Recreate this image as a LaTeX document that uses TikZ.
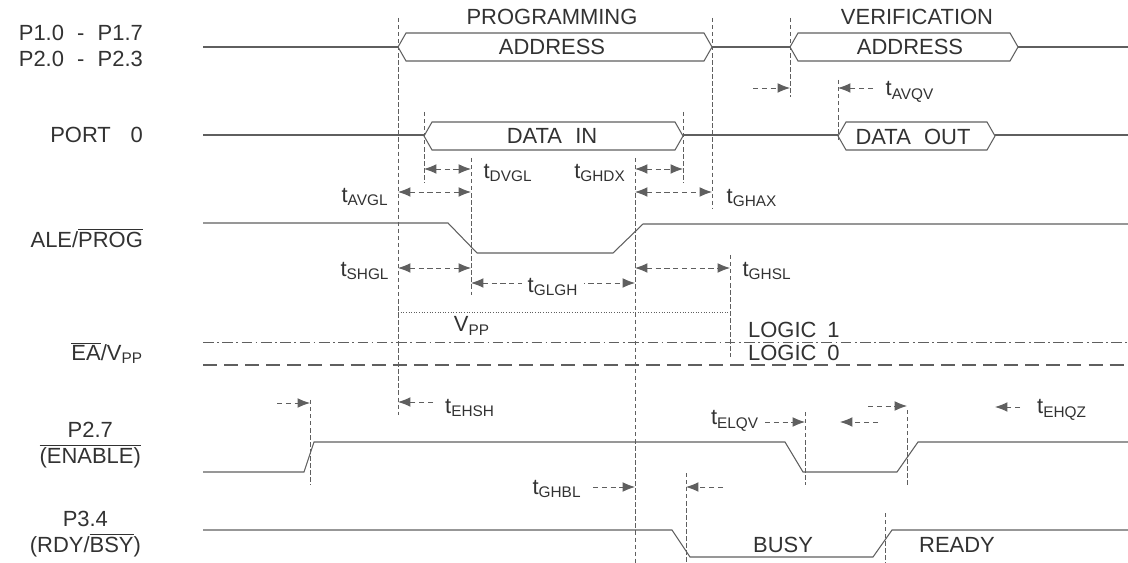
\documentclass[tikz,border=0pt]{standalone}
\usepackage{fontspec}
\setmainfont{Liberation Sans}
\usetikzlibrary{arrows.meta}
\definecolor{inkgray}{RGB}{50,50,50}
\definecolor{linegray}{RGB}{95,95,95}
\newcommand{\tsub}[1]{t\textsubscript{#1}}
\newcommand{\ovl}[1]{$\overline{\mbox{#1}}$}
% bus: x-left, x-right, y-centre, half height
\newcommand{\busshape}[4]{\draw[sig] (#1,#3) -- (#1+8,#3-#4) -- (#2-8,#3-#4) -- (#2,#3) -- (#2-8,#3+#4) -- (#1+8,#3+#4) -- cycle;}
\tikzset{
  sig/.style={linegray, line width=0.6pt},
  guide/.style={linegray, line width=0.45pt, dash pattern=on 2.5pt off 1.5pt},
  dim/.style={linegray, line width=0.5pt, dash pattern=on 3pt off 2pt, {Latex[length=7pt,width=5.5pt]}-{Latex[length=7pt,width=5.5pt]}},
  onedim/.style={linegray, line width=0.5pt, dash pattern=on 3pt off 2pt, -{Latex[length=7pt,width=5.5pt]}},
  lbl/.style={text=inkgray, font=\fontsize{12.5}{15}\selectfont, inner sep=1pt}
}
\begin{document}
\begin{tikzpicture}[x=0.02cm, y=-0.02cm]
        \useasboundingbox (0,0) rectangle (1128,563);
        % signal names
        \node[lbl, anchor=east, align=right] (nport1) at (145,46) {P1.0\hspace{0.6em}-\hspace{0.6em}P1.7\\P2.0\hspace{0.6em}-\hspace{0.6em}P2.3};
        \node[lbl, anchor=east] (nport0) at (145,135) {PORT\hspace{0.9em}0};
        \node[lbl, anchor=east] (nale) at (145,238) {ALE/\ovl{PROG}};
        \node[lbl, anchor=east] (nea) at (145,353) {\ovl{EA}/V\textsubscript{PP}};
        \node[lbl, anchor=east, align=center] (nen) at (143,445) {P2.7\\\ovl{(ENABLE)}};
        \node[lbl, anchor=east, align=center] (nrdy) at (143,534) {P3.4\\(RDY/\ovl{BSY})};
        % guide lines
        \draw[guide] (398,18) -- (398,415);
        \draw[guide] (712,18) -- (712,208);
        \draw[guide] (790,18) -- (790,97);
        \draw[guide] (424,112) -- (424,183);
        \draw[guide] (683,112) -- (683,183);
        \draw[guide] (471,158) -- (471,295);
        \draw[guide] (635,158) -- (635,563);
        \draw[guide] (730,255) -- (730,357);
        \draw[guide] (838,80) -- (838,140);
        \draw[guide] (310,400) -- (310,485);
        \draw[guide] (805,412) -- (805,485);
        \draw[guide] (907,410) -- (907,485);
        \draw[guide] (686,473) -- (686,563);
        \draw[guide] (885,513) -- (885,563);
        % address
        \draw[sig] (203,47) -- (398,47);
        \busshape{398}{712}{47}{14}
        \draw[sig] (712,47) -- (790,47);
        \busshape{790}{1018}{47}{14}
        \draw[sig] (1018,47) -- (1128,47);
        \node[lbl] (tprog) at (552,17) {PROGRAMMING};
        \node[lbl] (tpaddr) at (552,47) {ADDRESS};
        \node[lbl] (tverif) at (917,17) {VERIFICATION};
        \node[lbl] (tvaddr) at (910,47) {ADDRESS};
        % port 0
        \draw[sig] (203,135) -- (424,135);
        \busshape{424}{683}{136}{14}
        \draw[sig] (683,135) -- (838,135);
        \busshape{838}{995}{136}{14}
        \draw[sig] (995,135) -- (1128,135);
        \node[lbl] (tdin) at (552,136) {DATA\hspace{0.6em}IN};
        \node[lbl] (tdout) at (913,137) {DATA\hspace{0.6em}OUT};
        % ALE/PROG
        \draw[sig] (203,223) -- (448,223) -- (477,253) -- (613,253) -- (643,224) -- (1128,224);
        % EA/VPP
        \draw[linegray, line width=0.5pt, densely dotted] (398,312) -- (730,312);
        \draw[linegray, line width=0.5pt, dash pattern=on 6pt off 2pt on 1pt off 2pt] (203,342) -- (1128,342);
        \draw[linegray, line width=0.6pt, dash pattern=on 8pt off 4pt] (203,365) -- (1128,365);
        \node[lbl] (tvpp) at (472,326) {V\textsubscript{PP}};
        \node[lbl, anchor=west] (tlog1) at (746,330) {LOGIC\hspace{0.5em}1};
        \node[lbl, anchor=west] (tlog0) at (746,353) {LOGIC\hspace{0.5em}0};
        % ENABLE
        \draw[sig] (203,472) -- (304,472) -- (314,442) -- (785,442) -- (803,472) -- (897,472) -- (918,442) -- (1128,442);
        % RDY/BSY
        \draw[sig] (203,530) -- (672,530) -- (690,557) -- (873,557) -- (892,530) -- (1128,530);
        \node[lbl] (tbusy) at (783,545) {BUSY};
        \node[lbl] (tready) at (957,545) {READY};
        % timing arrows
        \draw[dim] (424,169) -- (471,169);
        \node[lbl] (ldvgl) at (508,173) {\tsub{DVGL}};
        \draw[dim] (635,169) -- (683,169);
        \node[lbl] (lghdx) at (600,173) {\tsub{GHDX}};
        \draw[dim] (398,192) -- (471,192);
        \node[lbl] (lavgl) at (365,197) {\tsub{AVGL}};
        \draw[dim] (635,192) -- (712,192);
        \node[lbl] (lghax) at (752,198) {\tsub{GHAX}};
        \draw[dim] (398,268) -- (471,268);
        \node[lbl] (lshgl) at (365,271) {\tsub{SHGL}};
        \draw[dim] (471,283) -- (635,283);
        \node[lbl, fill=white, inner sep=3pt] (lglgh) at (553,287) {\tsub{GLGH}};
        \draw[dim] (635,268) -- (730,268);
        \node[lbl] (lghsl) at (767,271) {\tsub{GHSL}};
        \draw[onedim] (753,88) -- (790,88);
        \draw[onedim] (873,88) -- (838,88);
        \node[lbl] (lavqv) at (910,92) {\tsub{AVQV}};
        \draw[onedim] (433,402) -- (398,402);
        \node[lbl] (lehsh) at (470,408) {\tsub{EHSH}};
        \draw[onedim] (277,403) -- (310,403);
        \node[lbl] (lelqv) at (735,421) {\tsub{ELQV}};
        \draw[onedim] (765,422) -- (805,422);
        \draw[onedim] (878,422) -- (840,422);
        \draw[onedim] (868,406) -- (907,406);
        \draw[onedim] (1020,407) -- (995,407);
        \node[lbl] (lehqz) at (1062,410) {\tsub{EHQZ}};
        \node[lbl] (lghbl) at (557,489) {\tsub{GHBL}};
        \draw[onedim] (593,487) -- (635,487);
        \draw[onedim] (723,487) -- (686,487);
    \end{tikzpicture}
\end{document}
